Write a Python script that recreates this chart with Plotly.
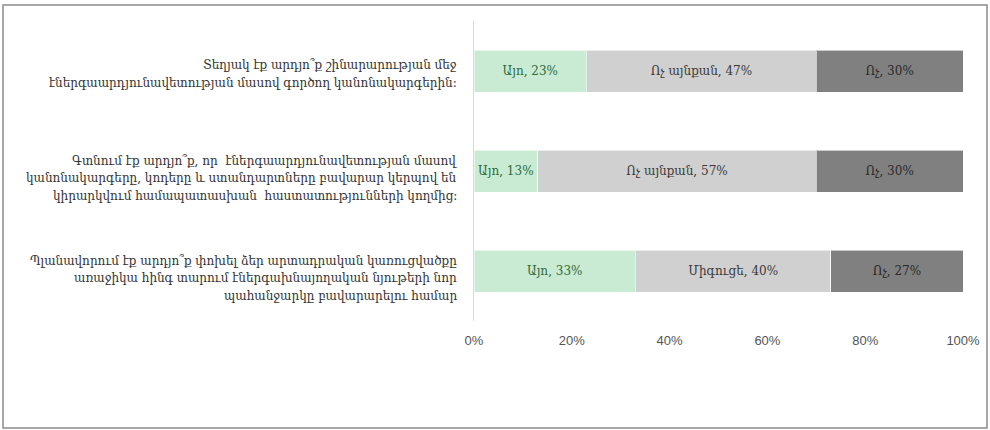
import plotly.graph_objects as go

# Survey questions (drawn top to bottom), one list of lines per question
question_lines = [
    ["Տեղյակ էք արդյո՞ք շինարարության մեջ",
     "էներգաարդյունավետության մասով գործող կանոնակարգերին:"],
    ["Գտնում էք արդյո՞ք, որ  էներգաարդյունավետության մասով",
     "կանոնակարգերը, կոդերը և ստանդարտները բավարար կերպով են",
     "կիրարկվում համապատասխան  հաստատությունների կողմից:"],
    ["Պլանավորում էք արդյո՞ք փոխել ձեր արտադրական կառուցվածքը",
     "առաջիկա հինգ տարում էներգախնայողական նյութերի նոր",
     "պահանջարկը բավարարելու համար"],
]
questions = [" ".join(lines) for lines in question_lines]

# Answer shares, %
yes_vals = [23, 13, 33]
mid_vals = [47, 57, 40]
no_vals = [30, 30, 27]

# Answer names
yes_names = ["Այո", "Այո", "Այո"]
mid_names = ["Ոչ այնքան", "Ոչ այնքան", "Միգուցե"]
no_names = ["Ոչ", "Ոչ", "Ոչ"]

tick_vals = [0, 20, 40, 60, 80, 100]
tick_text = ["0%", "20%", "40%", "60%", "80%", "100%"]

label_font = "DejaVu Serif, serif"

series = [
    (yes_vals, yes_names, "#c9ebd3", "#2f6a3c"),
    (mid_vals, mid_names, "#d0d0d0", "#3a3a3a"),
    (no_vals, no_names, "#808080", "#2a2a2a"),
]

fig = go.Figure()
for vals, names, color, tcolor in series:
    fig.add_trace(go.Bar(
        y=questions,
        x=vals,
        orientation="h",
        marker=dict(color=color, line=dict(color="rgba(255,255,255,0.6)", width=1)),
        text=[f"{n}, {v}%" for n, v in zip(names, vals)],
        textposition="inside",
        insidetextanchor="middle",
        textangle=0,
        textfont=dict(family=label_font, size=12, color=tcolor),
        hoverinfo="skip",
        width=0.42,
    ))

L, R, T, B = 474, 27, 21, 109
pw, ph = 990 - L - R, 430 - T - B

# Question labels, right-aligned line by line left of the axis
line_gap = 17.5
for q, lines in zip(questions, question_lines):
    n = len(lines)
    for i, line in enumerate(lines):
        offset = (i - (n - 1) / 2) * line_gap + (3 if n == 2 else 7)
        fig.add_annotation(
            x=0, xref="paper", xanchor="right",
            xshift=-15,
            y=q, yref="y", yanchor="middle",
            yshift=-offset,
            text=line, showarrow=False,
            font=dict(family=label_font, size=12, color="#333333"),
        )

# Outer frame around the whole figure
fig.add_shape(
    type="rect", xref="paper", yref="paper",
    x0=(3 - L) / pw, x1=(987 - L) / pw,
    y0=-(B - 2) / ph, y1=1 + (T - 5) / ph,
    line=dict(color="#8a8a8a", width=1.5), fillcolor="rgba(0,0,0,0)",
    layer="above",
)

fig.update_layout(
    barmode="stack",
    width=990, height=430,
    margin=dict(l=L, r=R, t=T, b=B, autoexpand=False),
    paper_bgcolor="white",
    plot_bgcolor="white",
    showlegend=False,
    bargap=0.58,
    xaxis=dict(
        range=[0, 100],
        tickvals=tick_vals,
        ticktext=tick_text,
        showgrid=False,
        zeroline=False,
        showline=False,
        ticks="",
        automargin=False,
        ticklabelstandoff=10,
        tickfont=dict(family="Liberation Sans, Arial, sans-serif", size=13, color="#555555"),
        fixedrange=True,
    ),
    yaxis=dict(
        categoryorder="array",
        categoryarray=questions,
        autorange="reversed",
        showgrid=False,
        zeroline=False,
        showline=True,
        linecolor="#d9d9d9",
        linewidth=1,
        ticks="",
        showticklabels=False,
        automargin=False,
        fixedrange=True,
    ),
)

fig.write_html("out.html")
